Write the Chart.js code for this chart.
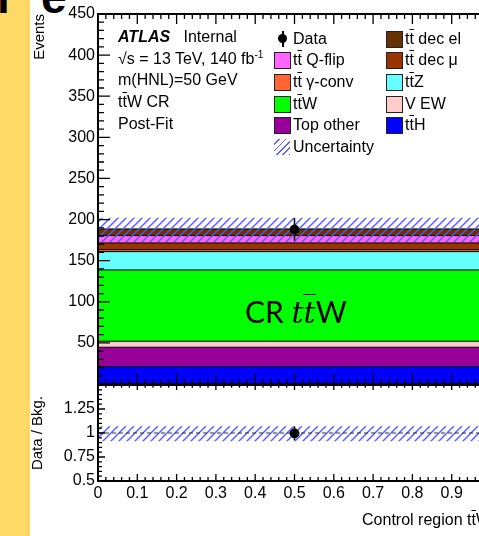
<!DOCTYPE html>
<html>
<head>
<meta charset="utf-8">
<script src="https://cdn.jsdelivr.net/npm/chart.js@4.4.0/dist/chart.umd.min.js"></script>
<style>
  html, body { margin: 0; padding: 0; background: #fff; }
  #wrap { position: relative; width: 479px; height: 536px; overflow: hidden; background: #fff;
          font-family: "Liberation Sans", Arial, sans-serif; font-size: 16px; color: #000; }
  #wrap canvas { position: absolute; left: 0; top: 0; }
  .abs { position: absolute; white-space: nowrap; line-height: 21.7px; }
  .ov { text-decoration: overline; text-decoration-thickness: 1px; }
  .sw { position: absolute; width: 15px; height: 15px; border: 1px solid #222; }
  .stripe { position: absolute; left: 0; top: 0; width: 30px; height: 536px; background: #ffd966; }
  .big { position: absolute; font-weight: bold; font-size: 46px; line-height: 46px; }
</style>
</head>
<body>
<div id="wrap">
  <div class="stripe"></div>
  <div class="big" style="left:-3px; top:-26px;">r</div>
  <div class="big" style="left:41px; top:-26px;">e</div>

  <canvas id="mainCanvas" width="500" height="536"></canvas>
  <canvas id="ratioCanvas" width="500" height="536"></canvas>

  <!-- labels on the left -->
  <div class="abs" style="left:118px; top:26px;"><b><i>ATLAS</i></b>&nbsp;&nbsp;&nbsp;Internal</div>
  <div class="abs" style="left:118px; top:48px;">&radic;s = 13 TeV, 140 fb<sup style="font-size:10px; vertical-align:6px; line-height:0">-1</sup></div>
  <div class="abs" style="left:118px; top:69px;">m(HNL)=50 GeV</div>
  <div class="abs" style="left:118px; top:91px;">t<span class="ov">t</span>W CR</div>
  <div class="abs" style="left:118px; top:113px;">Post-Fit</div>

  <div id="legend"></div>

  <div class="abs" style="left:245px; top:296px; font-family: Lato, sans-serif; font-size:30px; line-height:30px;">CR <span style="font-family:'DejaVu Serif', serif; font-style:italic;">t<span class="ov">t</span></span>W</div>

  <div class="abs" style="left:291px; width:200px; top:509px; text-align:right;">Control region t<span class="ov">t</span>W</div>
</div>

<script>
// stacked backgrounds, bottom to top
var samples = ['ttH', 'Top other', 'V EW', 'ttW', 'ttZ', 'tt gamma-conv', 'tt dec mu', 'tt Q-flip', 'tt dec el'];
var yields = [21.2, 23.5, 7.3, 86.7, 22.3, 2.4, 8.2, 8.9, 8.1];
var colors = ['#0000ff', '#990099', '#ffcccc', '#00ff00', '#66ffff', '#ff6633', '#993300', '#ff66ff', '#663300'];

// data and uncertainties
var dataX = [0.5];
var dataY = [188];
var dataErr = [13.7];
var uncUp = [13.5];
var uncDown = [16];

// legend entries (two columns like the ROOT legend)
var legendCol1 = ['Data', 't<span class="ov">t</span> Q-flip', 't<span class="ov">t</span> &gamma;-conv', 't<span class="ov">t</span>W', 'Top other', 'Uncertainty'];
var legendCol1Colors = [null, '#ff66ff', '#ff6633', '#00ff00', '#990099', null];
var legendCol2 = ['t<span class="ov">t</span> dec el', 't<span class="ov">t</span> dec &mu;', 't<span class="ov">t</span>Z', 'V EW', 't<span class="ov">t</span>H'];
var legendCol2Colors = ['#663300', '#993300', '#66ffff', '#ffcccc', '#0000ff'];

var fontFam = '"Liberation Sans", Arial, sans-serif';
var hatchColor = 'rgba(85,85,250,0.95)';

// hatch pattern for the uncertainty band
function makeHatch() {
    var c = document.createElement('canvas');
    c.width = 8; c.height = 8;
    var g = c.getContext('2d');
    g.strokeStyle = hatchColor;
    g.lineWidth = 1.5;
    g.beginPath();
    g.moveTo(0, 8); g.lineTo(8, 0);
    g.moveTo(-2, 2); g.lineTo(2, -2);
    g.moveTo(6, 10); g.lineTo(10, 6);
    g.stroke();
    return g.createPattern(c, 'repeat');
}

// build legend
var leg = document.getElementById('legend');
function addRow(col, i, html, color) {
    var rowTop = 27.5 + i * 21.7;
    var boxX = col === 1 ? 274 : 386;
    var txtX = col === 1 ? 293 : 405;
    var s = '';
    if (html === 'Data') {
        s += '<div style="position:absolute;left:' + (boxX + 8) + 'px;top:' + (rowTop + 3) + 'px;width:1.5px;height:16px;background:#000"></div>';
        s += '<div style="position:absolute;left:' + (boxX + 4) + 'px;top:' + (rowTop + 6.5) + 'px;width:9px;height:9px;border-radius:50%;background:#000"></div>';
    } else if (html === 'Uncertainty') {
        s += '<div style="position:absolute;left:' + boxX + 'px;top:' + (rowTop + 3) + 'px;width:16px;height:16px;' +
             'background:repeating-linear-gradient(-45deg, ' + hatchColor + ' 0 1.3px, transparent 1.3px 4.5px)"></div>';
    } else {
        s += '<div class="sw" style="left:' + boxX + 'px;top:' + (rowTop + 3) + 'px;background:' + color + '"></div>';
    }
    s += '<div class="abs" style="left:' + txtX + 'px;top:' + rowTop + 'px;">' + html + '</div>';
    leg.insertAdjacentHTML('beforeend', s);
}
legendCol1.forEach(function (h, i) { addRow(1, i, h, legendCol1Colors[i]); });
legendCol2.forEach(function (h, i) { addRow(2, i, h, legendCol2Colors[i]); });

// frame + ROOT style inner ticks on all four sides
var frameTicks = {
    id: 'frameTicks',
    afterDatasetsDraw: function (chart, args, o) {
        var ctx = chart.ctx, a = chart.chartArea;
        var xs = chart.scales.x, ys = chart.scales.y;
        ctx.save();
        ctx.strokeStyle = '#000';
        ctx.lineWidth = 1.3;
        ctx.beginPath();
        var n = Math.round((ys.max - ys.min) / o.yMinor);
        var every = Math.round(o.yMajor / o.yMinor);
        for (var i = 0; i <= n; i++) {
            var py = ys.getPixelForValue(ys.min + i * o.yMinor);
            var len = (i % every === 0) ? o.yMaj : o.yMin;
            ctx.moveTo(a.left, py); ctx.lineTo(a.left + len, py);
            ctx.moveTo(a.right, py); ctx.lineTo(a.right - len, py);
        }
        n = Math.round((xs.max - xs.min) / o.xMinor);
        every = Math.round(o.xMajor / o.xMinor);
        for (var j = 0; j <= n; j++) {
            var px = xs.getPixelForValue(xs.min + j * o.xMinor);
            var l2 = (j % every === 0) ? o.xMaj : o.xMin;
            ctx.moveTo(px, a.bottom); ctx.lineTo(px, a.bottom - l2);
            ctx.moveTo(px, a.top); ctx.lineTo(px, a.top + l2 * o.topScale);
        }
        ctx.stroke();
        ctx.lineWidth = 2;
        ctx.strokeRect(a.left, a.top, a.right - a.left, a.bottom - a.top);
        ctx.restore();
    }
};

var hatch = makeHatch();

// ---------- main panel ----------
var tops = [];
var sum = 0;
for (var i = 0; i < yields.length; i++) { sum += yields[i]; tops.push(sum); }
var total = tops[tops.length - 1];

var mainSets = [];
for (var k = 0; k < samples.length; k++) {
    mainSets.push({
        label: samples[k],
        data: [{x: 0, y: tops[k]}, {x: 1, y: tops[k]}],
        borderColor: '#000', borderWidth: 1,
        backgroundColor: colors[k],
        fill: k === 0 ? 'origin' : '-1',
        pointRadius: 0
    });
}
mainSets.push({
    label: 'unc low',
    data: [{x: 0, y: total - uncDown[0]}, {x: 1, y: total - uncDown[0]}],
    borderColor: 'rgba(0,0,0,0)', borderWidth: 1, pointRadius: 0, fill: false, order: -1
});
mainSets.push({
    label: 'unc high',
    data: [{x: 0, y: total + uncUp[0]}, {x: 1, y: total + uncUp[0]}],
    borderColor: 'rgba(0,0,0,0)', borderWidth: 1, pointRadius: 0,
    backgroundColor: hatch, fill: '-1', order: -1
});
mainSets.push({
    label: 'data err',
    data: [{x: dataX[0], y: dataY[0] - dataErr[0]}, {x: dataX[0], y: dataY[0] + dataErr[0]}],
    borderColor: '#000', borderWidth: 1.5, pointRadius: 0, fill: false, order: -2
});
mainSets.push({
    label: 'Data',
    data: dataX.map(function (x, i) { return {x: x, y: dataY[i]}; }),
    showLine: false, pointRadius: 4.5, pointBackgroundColor: '#000', pointBorderColor: '#000', order: -3
});

new Chart(document.getElementById('mainCanvas'), {
    type: 'line',
    data: { datasets: mainSets },
    plugins: [frameTicks],
    options: {
        responsive: false,
        animation: false,
        events: [],
        layout: { padding: { top: 14, bottom: 152, left: 0, right: 9 } },
        plugins: {
            legend: { display: false },
            tooltip: { enabled: false },
            frameTicks: { xMinor: 0.02, xMajor: 0.1, xMaj: 10, xMin: 5, topScale: 1,
                          yMinor: 10, yMajor: 50, yMaj: 12, yMin: 6 }
        },
        scales: {
            x: { type: 'linear', min: 0, max: 1, display: false },
            y: {
                type: 'linear', min: 0, max: 450,
                afterFit: function (s) { s.width = 98; },
                grid: { display: false, drawTicks: false },
                border: { display: false },
                ticks: {
                    stepSize: 50, padding: 3, color: '#000',
                    font: { family: fontFam, size: 16 },
                    callback: function (v) { return v === 0 ? '' : v; }
                },
                title: {
                    display: true, text: 'Events', align: 'end', color: '#000',
                    padding: { top: 31 }, font: { family: fontFam, size: 15 }
                }
            }
        }
    }
});

// ---------- ratio panel ----------
var ratioY = dataY.map(function (v) { return v / total; });
var ratioErr = dataErr.map(function (e) { return e / total; });

var ratioSets = [
    {
        label: 'unc low',
        data: [{x: 0, y: 1 - uncDown[0] / total}, {x: 1, y: 1 - uncDown[0] / total}],
        borderColor: 'rgba(0,0,0,0)', borderWidth: 1, pointRadius: 0, fill: false
    },
    {
        label: 'unc high',
        data: [{x: 0, y: 1 + uncUp[0] / total}, {x: 1, y: 1 + uncUp[0] / total}],
        borderColor: 'rgba(0,0,0,0)', borderWidth: 1, pointRadius: 0,
        backgroundColor: hatch, fill: '-1'
    },
    {
        label: 'unity',
        data: [{x: 0, y: 1}, {x: 1, y: 1}],
        borderColor: '#333', borderWidth: 1, borderDash: [4, 3], pointRadius: 0, fill: false, order: -1
    },
    {
        label: 'ratio err',
        data: [{x: dataX[0], y: ratioY[0] - ratioErr[0]}, {x: dataX[0], y: ratioY[0] + ratioErr[0]}],
        borderColor: '#000', borderWidth: 1.5, pointRadius: 0, fill: false, order: -2
    },
    {
        label: 'ratio',
        data: dataX.map(function (x, i) { return {x: x, y: ratioY[i]}; }),
        showLine: false, pointRadius: 4.5, pointBackgroundColor: '#000', pointBorderColor: '#000', order: -3
    }
];

new Chart(document.getElementById('ratioCanvas'), {
    type: 'line',
    data: { datasets: ratioSets },
    plugins: [frameTicks],
    options: {
        responsive: false,
        animation: false,
        events: [],
        layout: { padding: { top: 385, bottom: 0, left: 0, right: 9 } },
        plugins: {
            legend: { display: false },
            tooltip: { enabled: false },
            frameTicks: { xMinor: 0.02, xMajor: 0.1, xMaj: 7, xMin: 4, topScale: 0.7,
                          yMinor: 0.05, yMajor: 0.25, yMaj: 7, yMin: 4 }
        },
        scales: {
            x: {
                type: 'linear', min: 0, max: 1,
                afterFit: function (s) { s.height = 55; },
                grid: { display: false, drawTicks: false },
                border: { display: false },
                ticks: {
                    stepSize: 0.1, padding: 3, color: '#000', maxRotation: 0,
                    font: { family: fontFam, size: 16 },
                    callback: function (v) { return v >= 0.999 ? '1' : String(Number(v.toFixed(1))); }
                }
            },
            y: {
                type: 'linear', min: 0.5, max: 1.5,
                afterFit: function (s) { s.width = 98; },
                grid: { display: false, drawTicks: false },
                border: { display: false },
                ticks: {
                    stepSize: 0.25, padding: 3, color: '#000',
                    font: { family: fontFam, size: 16 },
                    callback: function (v) { return v > 1.4 ? '' : String(v); }
                },
                title: {
                    display: true, text: 'Data / Bkg.', color: '#000',
                    padding: { top: 29 }, font: { family: fontFam, size: 15 }
                }
            }
        }
    }
});
</script>
</body>
</html>
